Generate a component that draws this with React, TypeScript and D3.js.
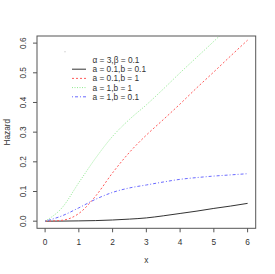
import * as d3 from "d3";

// hazard curves, x from 0 to 6 in steps of 0.5
const xValues = [0, 0.5, 1, 1.5, 2, 2.5, 3, 3.5, 4, 4.5, 5, 5.5, 6];
const hazBlack = [0, 0.0003, 0.001, 0.002, 0.004, 0.007, 0.011, 0.018, 0.026, 0.034, 0.043, 0.051, 0.06];
const hazRed = [0, 0.003, 0.026, 0.085, 0.163, 0.232, 0.29, 0.342, 0.395, 0.45, 0.503, 0.557, 0.61];
const hazGreen = [0, 0.045, 0.13, 0.213, 0.286, 0.343, 0.392, 0.445, 0.5, 0.553, 0.606, 0.66, 0.71];
const hazBlue = [0, 0.018, 0.045, 0.074, 0.097, 0.112, 0.122, 0.132, 0.141, 0.147, 0.152, 0.156, 0.16];

const xTicks = [0, 1, 2, 3, 4, 5, 6];
const yTicks = [0, 0.1, 0.2, 0.3, 0.4, 0.5, 0.6];

const legendTitle = "α = 3,β = 0.1";
const legendLabels = ["a = 0.1,b = 0.1", "a = 0.1,b = 1", "a = 1,b = 1", "a = 1,b = 0.1"];

const series = [
  { values: hazBlack, color: "#333333", dash: "none" },
  { values: hazRed, color: "#ff5a5a", dash: "2,2" },
  { values: hazGreen, color: "#8ee88e", dash: "1,1.5" },
  { values: hazBlue, color: "#6a6aff", dash: "1,2,3,2" },
];

const W = 275;
const H = 274;
const L = 37, R = 255.7, T = 36, B = 228.3;

export default function App() {
  // R style 4% padding on both axes
  const x = d3.scaleLinear().domain([-0.24, 6.24]).range([L, R]);
  const y = d3.scaleLinear().domain([-0.024, 0.624]).range([B, T]);

  const line = (vals: number[]) =>
    d3
      .line<number>()
      .x((_, i) => x(xValues[i]))
      .y((d) => y(d))
      .curve(d3.curveMonotoneX)(vals) || "";

  const font = "'Liberation Sans', Arial, sans-serif";
  const fs = 8.3;
  const legY = 60;
  const rowH = 9.2;

  return (
    <svg
      width={W}
      height={H}
      style={{ position: "absolute", left: 0, top: 0, background: "#fff" }}
      fontFamily={font}
      fontSize={fs}
    >
      <defs>
        <clipPath id="plotclip">
          <rect x={L} y={T} width={R - L} height={B - T} />
        </clipPath>
      </defs>

      <g clipPath="url(#plotclip)">
        {series.map((s, i) => (
          <path
            key={i}
            d={line(s.values)}
            fill="none"
            stroke={s.color}
            strokeWidth={1}
            strokeDasharray={s.dash}
          />
        ))}
      </g>

      <rect x={L} y={T} width={R - L} height={B - T} fill="none" stroke="#555" strokeWidth={1} />

      {/* x axis */}
      {xTicks.map((t) => (
        <g key={t}>
          <line x1={x(t)} x2={x(t)} y1={B} y2={B + 4} stroke="#555" />
          <text x={x(t)} y={241.7} textAnchor="middle" dominantBaseline="central" fill="#333">
            {t}
          </text>
        </g>
      ))}
      {/* y axis */}
      {yTicks.map((t) => (
        <g key={t}>
          <line x1={L - 4} x2={L} y1={y(t)} y2={y(t)} stroke="#555" />
          <text
            transform={`translate(23,${y(t)}) rotate(-90)`}
            textAnchor="middle"
            dominantBaseline="central"
            fill="#333"
          >
            {d3.format(".1f")(t)}
          </text>
        </g>
      ))}

      <text x={(L + R) / 2} y={260} textAnchor="middle" dominantBaseline="central" fill="#333">
        x
      </text>
      <text
        transform={`translate(6.5,${(T + B) / 2}) rotate(-90)`}
        textAnchor="middle"
        dominantBaseline="central"
        fill="#333"
      >
        Hazard
      </text>

      {/* legend */}
      <circle cx={65} cy={51.7} r={0.5} fill="#999" />
      <text x={92.5} y={legY} dominantBaseline="central" fill="#333">
        {legendTitle}
      </text>
      {legendLabels.map((lab, i) => (
        <g key={lab}>
          <line
            x1={72}
            x2={86}
            y1={legY + rowH * (i + 1)}
            y2={legY + rowH * (i + 1)}
            stroke={series[i].color}
            strokeDasharray={series[i].dash}
          />
          <text x={92.5} y={legY + rowH * (i + 1)} dominantBaseline="central" fill="#333">
            {lab}
          </text>
        </g>
      ))}
    </svg>
  );
}
